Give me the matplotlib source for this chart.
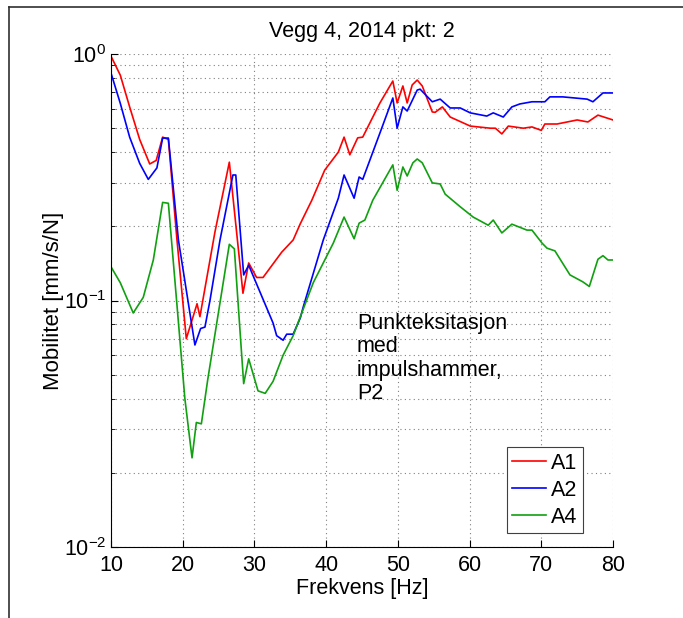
import numpy as np
import matplotlib
matplotlib.use("Agg")
from matplotlib import pyplot as plt
from matplotlib.lines import Line2D
from matplotlib.ticker import LogLocator, NullFormatter

# Punktmobilitet, vegg 4 (2014), punkt 2
freq_a1 = [10, 11.3, 12.6, 14.0, 15.4, 16.3, 17.2, 18.0, 19.2, 20.5, 22.0, 22.4, 24.5,
           26.5, 28.4, 29.2, 30.3, 31.2, 33.8, 35.4, 36.4, 38.0, 39.8, 41.7, 42.5,
           43.3, 44.4, 45.1, 47.5, 49.3, 49.9, 50.7, 51.3, 52.0, 52.7, 53.4, 54.8,
           55.2, 56.2, 57.3, 60.1, 62.9, 63.6, 64.5, 65.4, 67.5, 68.7, 70.0, 70.5,
           72.2, 75.0, 76.5, 77.9, 80]
mob_a1 = [0.98, 0.82, 0.61, 0.45, 0.358, 0.37, 0.46, 0.45, 0.176, 0.070, 0.097, 0.086, 0.19,
          0.364, 0.107, 0.142, 0.124, 0.124, 0.157, 0.176, 0.205, 0.255, 0.338, 0.40, 0.46,
          0.39, 0.457, 0.46, 0.633, 0.777, 0.633, 0.742, 0.633, 0.749, 0.784, 0.742, 0.582,
          0.58, 0.61, 0.555, 0.51, 0.50, 0.50, 0.474, 0.51, 0.50, 0.506, 0.49, 0.52,
          0.52, 0.54, 0.53, 0.565, 0.54]

freq_a2 = [10, 11.3, 12.6, 14.0, 15.2, 16.4, 17.2, 18.0, 19.4, 21.7, 22.5, 23.1, 23.8,
           25.2, 27.0, 27.4, 28.5, 29.2, 32.6, 33.1, 34.0, 34.5, 35.4, 36.4, 36.8,
           39.6, 41.7, 42.5, 43.9, 44.6, 45.1, 47.5, 49.3, 49.9, 50.7, 51.3, 52.7,
           53.1, 54.8, 55.9, 57.3, 58.7, 60.1, 62.4, 63.3, 64.7, 65.9, 67.0, 68.7,
           70.5, 71.2, 73.0, 76.4, 77.2, 78.6, 80]
mob_a2 = [0.837, 0.63, 0.46, 0.36, 0.31, 0.345, 0.456, 0.456, 0.176, 0.066, 0.077, 0.078, 0.10,
          0.176, 0.323, 0.323, 0.127, 0.139, 0.081, 0.072, 0.069, 0.073, 0.073, 0.085, 0.094,
          0.176, 0.26, 0.323, 0.26, 0.317, 0.31, 0.478, 0.663, 0.50, 0.61, 0.587, 0.714,
          0.72, 0.64, 0.656, 0.604, 0.604, 0.577, 0.56, 0.577, 0.555, 0.61, 0.627, 0.64,
          0.64, 0.67, 0.67, 0.656, 0.64, 0.695, 0.695]

freq_a4 = [10, 11.3, 13.1, 14.5, 15.9, 17.2, 18.0, 20.3, 21.3, 21.9, 22.6, 23.5, 26.5,
           27.2, 28.5, 29.2, 30.5, 31.5, 32.6, 34.0, 35.4, 38.2, 41.0, 42.5, 43.9,
           44.6, 45.4, 46.5, 49.3, 49.9, 50.7, 51.3, 52.1, 52.7, 53.4, 54.8, 55.9,
           56.6, 58.7, 60.5, 62.6, 63.3, 64.5, 65.9, 68.0, 68.7, 70.1, 70.8, 71.9,
           74.0, 75.8, 76.7, 77.9, 78.6, 79.3, 80]
mob_a4 = [0.137, 0.118, 0.089, 0.103, 0.146, 0.25, 0.248, 0.04, 0.023, 0.032, 0.0316, 0.048, 0.169,
          0.162, 0.046, 0.058, 0.043, 0.042, 0.047, 0.06, 0.072, 0.118, 0.171, 0.218, 0.178,
          0.206, 0.212, 0.255, 0.355, 0.28, 0.348, 0.32, 0.362, 0.375, 0.362, 0.30, 0.297,
          0.27, 0.24, 0.218, 0.202, 0.212, 0.188, 0.204, 0.193, 0.193, 0.171, 0.163, 0.159,
          0.127, 0.119, 0.114, 0.147, 0.152, 0.146, 0.146]

plt.rcParams['font.family'] = ['Liberation Sans', 'DejaVu Sans']
plt.rcParams['mathtext.fontset'] = 'custom'
plt.rcParams['mathtext.rm'] = 'Liberation Sans'
fs = 15.5

fig = plt.figure(figsize=(6.83, 6.18), dpi=100)
ax = fig.add_axes([111 / 683, 1 - 547 / 618, 502 / 683, 493 / 618])

ax.semilogy(freq_a1, mob_a1, color='#ff0000', lw=1.2, label='A1')
ax.semilogy(freq_a2, mob_a2, color='#0000ff', lw=1.2, label='A2')
ax.semilogy(freq_a4, mob_a4, color='#10a010', lw=1.2, label='A4')

ax.set_xlim(10, 80)
ax.set_ylim(1e-2, 1e0)
ax.set_xticks(np.arange(10, 81, 10))
ax.yaxis.set_major_locator(LogLocator(base=10, numticks=5))
ax.yaxis.set_minor_locator(LogLocator(base=10, subs=np.arange(2, 10), numticks=20))
ax.yaxis.set_minor_formatter(NullFormatter())

ax.grid(True, which='both', axis='y', ls=(0, (1, 3)), color='#808080', lw=0.8)
ax.grid(True, which='major', axis='x', ls=(0, (1, 3)), color='#808080', lw=0.8)

ax.tick_params(which='both', direction='in', labelsize=fs, top=False, right=False)
ax.tick_params(which='major', length=5)
ax.tick_params(which='minor', length=3)
ax.tick_params(axis='x', pad=5.5)
ax.spines['top'].set_visible(False)
ax.spines['right'].set_visible(False)

ax.set_title('Vegg 4, 2014 pkt: 2', fontsize=fs, pad=12)
ax.set_xlabel('Frekvens [Hz]', fontsize=fs, labelpad=2)
ax.set_ylabel('Mobilitet [mm/s/N]', fontsize=16, labelpad=0)

ax.text(44.3, 0.089, 'Punkteksitasjon\nmed\nimpulshammer,\nP2', fontsize=fs,
        va='top', ha='left', linespacing=1.15)

leg = ax.legend(loc='lower right', bbox_to_anchor=(0.94, 0.028), borderaxespad=0,
                fontsize=fs, handlelength=1.55, handletextpad=0.25, labelspacing=0.28,
                fancybox=False, framealpha=1, edgecolor='#404040', borderpad=0.25)
leg.get_frame().set_linewidth(0.8)

# window frame
fig.add_artist(Line2D([9 / 683, 1], [1 - 7 / 618, 1 - 7 / 618], color='#303030', lw=1.2))
fig.add_artist(Line2D([9 / 683, 9 / 683], [0, 1 - 7 / 618], color='#303030', lw=1.2))

fig.savefig('out.png', dpi=100)
